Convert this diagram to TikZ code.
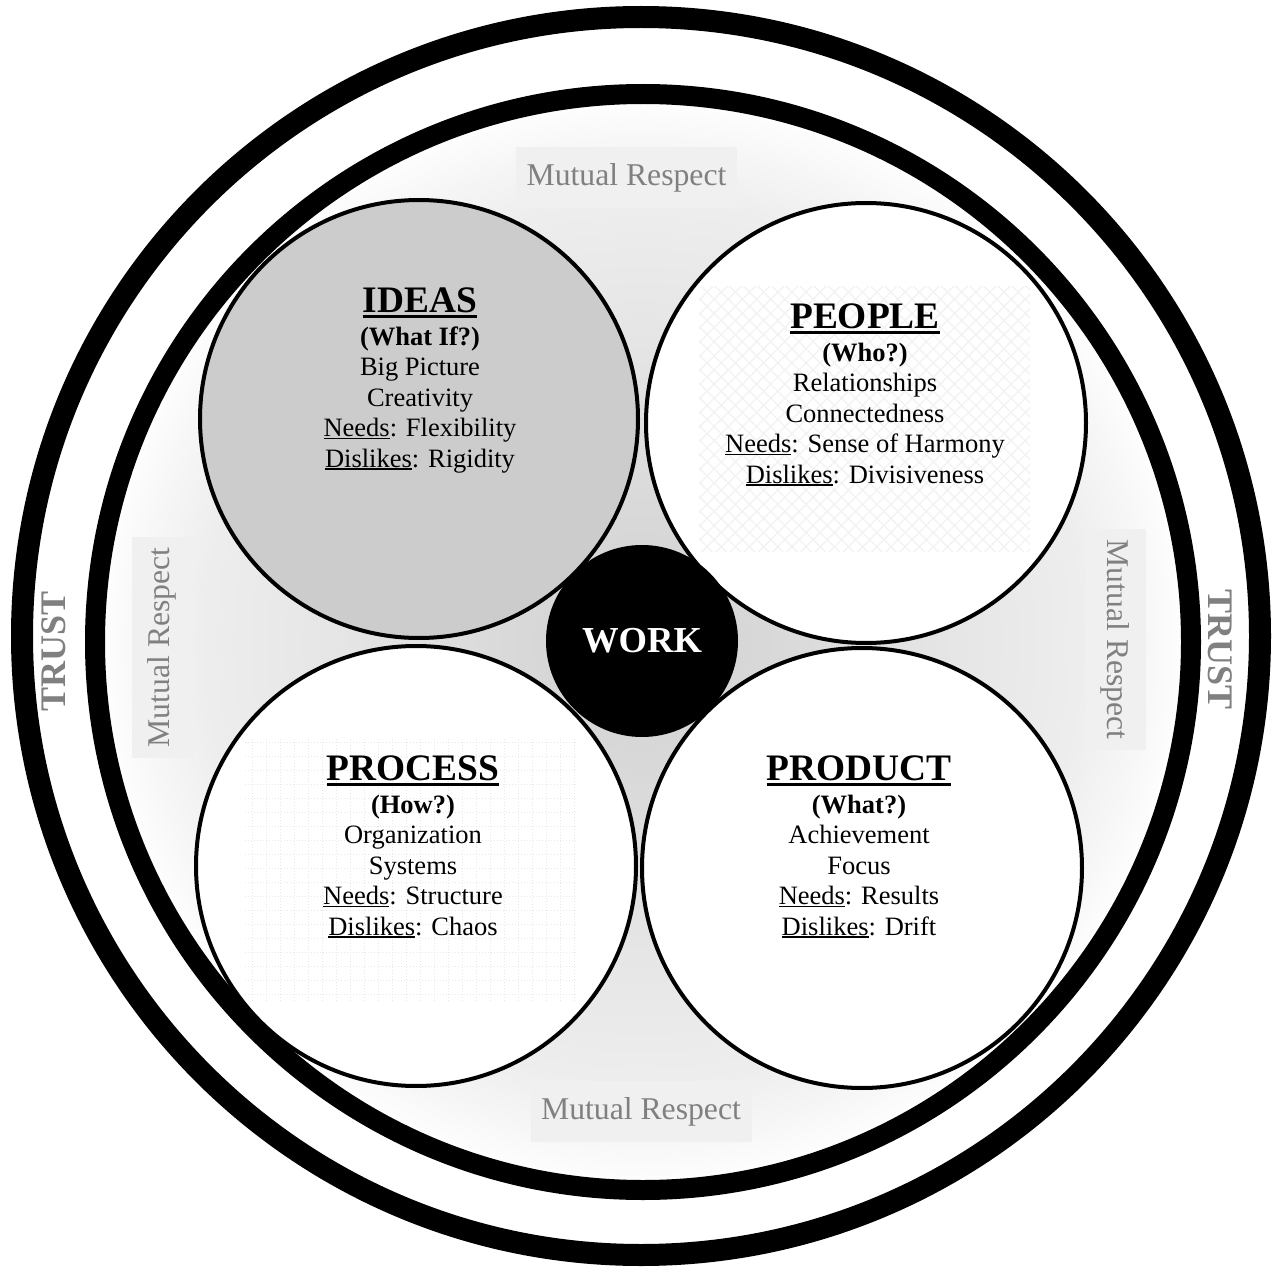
\documentclass[tikz,border=0pt]{standalone}
\usepackage{fontspec}
\setmainfont{Liberation Serif}
\usepackage{tikz}
\usetikzlibrary{shapes,positioning,patterns.meta}
\pgfdeclareradialshading{respectglow}{\pgfpoint{0bp}{0bp}}{color(0bp)=(black!18); color(6bp)=(black!15); color(14bp)=(black!10); color(20bp)=(black!7); color(23bp)=(black!3); color(25bp)=(white); color(50bp)=(white)}
\tikzstyle{bubble} = [circle, draw, line width=2pt, inner sep=0pt, minimum size=220pt, fill=white]
\tikzstyle{respect} = [rectangle, fill=black!6, text=black!50, inner sep=0pt,
    minimum width=110.5pt, minimum height=30.5pt, font=\fontsize{15.85}{18}\selectfont]
\tikzstyle{trust} = [text=black!50, inner sep=0pt, font=\bfseries\fontsize{18}{20}\selectfont]
\tikzstyle{blurb} = [align=center, anchor=base, inner sep=0pt, font=\fontsize{13.25}{15.25}\selectfont]
\newcommand{\undr}[3]{\setbox0\hbox{#3}\leavevmode\rlap{\rule[-#1]{\wd0}{#2}}\box0}
\newcommand{\heading}[1]{{\fontsize{18.7}{20}\selectfont\bfseries\undr{2.9pt}{1.6pt}{#1}}}
\newcommand{\needs}{\undr{1.3pt}{0.8pt}{Needs}}
\newcommand{\dislikes}{\undr{1.3pt}{0.8pt}{Dislikes}}

\begin{document}
\begin{tikzpicture}[x=0.5pt, y=-0.5pt]
    \useasboundingbox (0,0) rectangle (1276,1268);
    % Draw rings
    \draw [line width=11pt] (641,636) circle [radius=619];
    \shade [shading=respectglow] (643,642) circle [radius=548];
    \draw [line width=10pt] (643,642) circle [radius=548];

    % Place nodes
    \node [respect] (resptop) at (626.5,178) {Mutual Respect};
    \node [respect, rotate=90] (respleft) at (162,647.5) {Mutual Respect};
    \node [respect, rotate=-90] (respright) at (1115.5,639.5) {Mutual Respect};
    \node [respect] (respbottom) at (641,1111.5) {Mutual Respect};
    \node [trust, rotate=90] (trustleft) at (54,651) {TRUST};
    \node [trust, rotate=-90] (trustright) at (1220,650) {TRUST};

    \node [bubble, fill=black!20, minimum size=219pt] (ideas) at (419,419) {};
    \node [bubble] (people) at (866,423) {};
    \node [bubble] (process) at (416,866) {};
    \node [bubble] (product) at (862,868) {};
    \fill [pattern={Hatch[angle=45,distance=5pt,line width=0.6pt]}, pattern color=black!5] (699,286) rectangle (1030,551);
    \draw [black!9, densely dotted, line width=0.5pt, step=7pt] (245,738) grid (578,1001);
    \node [circle, fill=black, inner sep=0pt, minimum size=96pt, text=white,
        font=\bfseries\fontsize{18.3}{20}\selectfont] (work) at (642,641) {WORK};

    % Texts
    \node [blurb] (ideastxt) at (420,467) {\heading{IDEAS}\\[1.25pt] \textbf{(What If?)}\\ Big Picture\\ Creativity\\ \needs: Flexibility\\ \dislikes: Rigidity};
    \node [blurb] (peopletxt) at (865,483) {\heading{PEOPLE}\\[1.25pt] \textbf{(Who?)}\\ Relationships\\ Connectedness\\ \needs: Sense of Harmony\\ \dislikes: Divisiveness};
    \node [blurb] (processtxt) at (413,935) {\heading{PROCESS}\\[1.25pt] \textbf{(How?)}\\ Organization\\ Systems\\ \needs: Structure\\ \dislikes: Chaos};
    \node [blurb] (producttxt) at (859,935) {\heading{PRODUCT}\\[1.25pt] \textbf{(What?)}\\ Achievement\\ Focus\\ \needs: Results\\ \dislikes: Drift};
\end{tikzpicture}
\end{document}
